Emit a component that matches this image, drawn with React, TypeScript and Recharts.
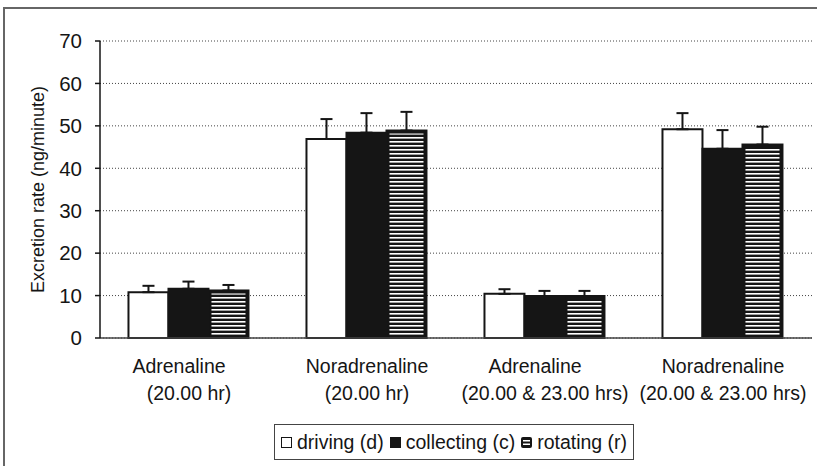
import React from 'react';
import { BarChart, Bar, XAxis, YAxis, CartesianGrid, ErrorBar } from 'recharts';

const categories = [
    ['Adrenaline', '(20.00 hr)'],
    ['Noradrenaline', '(20.00 hr)'],
    ['Adrenaline', '(20.00 & 23.00 hrs)'],
    ['Noradrenaline', '(20.00 & 23.00 hrs)'],
];
const driving = [10.8, 46.9, 10.4, 49.2];
const drivingErr = [1.5, 4.7, 1.1, 3.8];
const collecting = [11.6, 48.4, 9.9, 44.6];
const collectingErr = [1.7, 4.6, 1.2, 4.4];
const rotating = [11.2, 48.9, 9.9, 45.6];
const rotatingErr = [1.3, 4.4, 1.2, 4.2];
const seriesNames = ['driving (d)', 'collecting (c)', 'rotating (r)'];
const yTicks = [0, 10, 20, 30, 40, 50, 60, 70];

const data = categories.map((lines, i) => ({
    name: lines.join(' '),
    lines,
    d: driving[i],
    c: collecting[i],
    r: rotating[i],
    dErr: [0, drivingErr[i]],
    cErr: [0, collectingErr[i]],
    rErr: [0, rotatingErr[i]],
}));

const FONT = '"Liberation Sans", Arial, sans-serif';
const INK = '#151515';

const CategoryTick = (props: any) => {
    const { x, y, index } = props;
    const lines = data[index].lines;
    // first line of the Adrenaline labels sits a bit left in the original
    const firstDx = lines[0] === 'Adrenaline' ? -10 : 0;
    return (
        <g>
            <text x={x + firstDx} y={y + 27} textAnchor="middle" fontSize={19.5} fontFamily={FONT} fill={INK}>
                {lines[0]}
            </text>
            <text x={x} y={y + 54} textAnchor="middle" fontSize={19.5} fontFamily={FONT} fill={INK}>
                {lines[1]}
            </text>
        </g>
    );
};

const StripedBar = (props: any) => {
    const { x, y, width, height } = props;
    if (!height || height <= 0) return null;
    return (
        <g>
            <rect x={x} y={y} width={width} height={height} fill={INK} stroke={INK} strokeWidth={2} />
            <rect x={x + 3} y={y + 3} width={width - 6} height={height - 4} fill="url(#hStripes)" />
        </g>
    );
};

const Marker = ({ kind }: { kind: number }) => {
    if (kind === 0) {
        return <span style={{ display: 'inline-block', width: 9, height: 9, border: `1.5px solid ${INK}`, background: '#fff' }} />;
    }
    if (kind === 1) {
        return <span style={{ display: 'inline-block', width: 11, height: 11, background: INK }} />;
    }
    return (
        <svg width={11} height={11} style={{ display: 'inline-block' }}>
            <rect x={0} y={0} width={11} height={11} rx={2} fill={INK} />
            <rect x={2} y={3} width={7} height={1.5} fill="#fff" />
            <rect x={2} y={6.5} width={7} height={1.5} fill="#fff" />
        </svg>
    );
};

const App = () => {
    return (
        <div style={{ position: 'fixed', left: 0, top: 0, width: 817, height: 466, overflow: 'hidden', background: '#fff' }}>
            <svg width={0} height={0} style={{ position: 'absolute' }}>
                <defs>
                    <pattern id="hStripes" patternUnits="userSpaceOnUse" width={4} height={4}>
                        <rect x={0} y={0} width={4} height={4} fill={INK} />
                        <rect x={0} y={1} width={4} height={1.6} fill="#fff" />
                    </pattern>
                </defs>
            </svg>
            <div
                style={{
                    position: 'absolute',
                    left: 3,
                    top: 7,
                    width: 830,
                    height: 480,
                    boxSizing: 'border-box',
                    border: '2px solid #666',
                }}
            />
            <div style={{ position: 'absolute', left: 0, top: 0 }}>
                <BarChart
                    width={817}
                    height={466}
                    data={data}
                    margin={{ top: 41, right: 5, left: 30, bottom: 68 }}
                    barCategoryGap="16%"
                    barGap={0}
                >
                    <CartesianGrid vertical={false} stroke="#444" strokeDasharray="1 2" />
                    <XAxis
                        dataKey="name"
                        height={60}
                        interval={0}
                        tickLine={false}
                        axisLine={{ stroke: '#444', strokeWidth: 1.5 }}
                        tick={<CategoryTick />}
                    />
                    <YAxis
                        domain={[0, 70]}
                        ticks={yTicks}
                        interval={0}
                        width={70}
                        tickSize={5}
                        tickMargin={13}
                        axisLine={{ stroke: INK, strokeWidth: 1.5 }}
                        tickLine={{ stroke: INK, strokeWidth: 1.5 }}
                        tick={{ fill: INK, fontSize: 20.5, fontFamily: FONT }}
                        label={{
                            value: 'Excretion rate (ng/minute)',
                            angle: -90,
                            position: 'insideLeft',
                            offset: 8,
                            style: { textAnchor: 'middle', fontSize: 18, fill: INK, fontFamily: FONT },
                        }}
                    />
                    <YAxis
                        yAxisId="right"
                        orientation="right"
                        domain={[0, 70]}
                        width={0}
                        tick={false}
                        tickLine={false}
                        axisLine={{ stroke: '#555', strokeDasharray: '1 2' }}
                    />
                    <Bar dataKey="d" fill="#fff" stroke={INK} strokeWidth={2} isAnimationActive={false}>
                        <ErrorBar dataKey="dErr" direction="y" width={6} stroke={INK} strokeWidth={2} />
                    </Bar>
                    <Bar dataKey="c" fill={INK} stroke={INK} strokeWidth={2} isAnimationActive={false}>
                        <ErrorBar dataKey="cErr" direction="y" width={6} stroke={INK} strokeWidth={2} />
                    </Bar>
                    <Bar dataKey="r" shape={<StripedBar />} isAnimationActive={false}>
                        <ErrorBar dataKey="rErr" direction="y" width={6} stroke={INK} strokeWidth={2} />
                    </Bar>
                </BarChart>
            </div>
            <div
                style={{
                    position: 'absolute',
                    left: 274,
                    top: 424,
                    height: 34,
                    padding: '0 6px',
                    border: '1.5px solid #444',
                    display: 'flex',
                    alignItems: 'center',
                    gap: 6,
                    fontFamily: FONT,
                    fontSize: 19.5,
                    color: INK,
                    background: '#fff',
                    whiteSpace: 'nowrap',
                }}
            >
                {seriesNames.map((name, i) => (
                    <span key={name} style={{ display: 'inline-flex', alignItems: 'center', gap: 5 }}>
                        <Marker kind={i} />
                        <span>{name}</span>
                    </span>
                ))}
            </div>
        </div>
    );
};

export default App;
